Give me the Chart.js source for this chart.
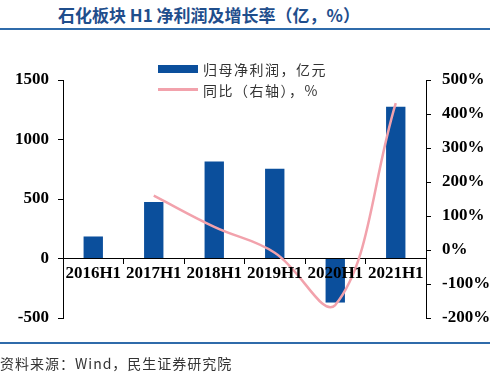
<!DOCTYPE html>
<html>
<head>
<meta charset="utf-8">
<script src="https://cdn.jsdelivr.net/npm/chart.js@4/dist/chart.umd.min.js"></script>
<style>
  html, body { margin: 0; padding: 0; background: #fff; }
  body { width: 500px; height: 381px; position: relative; overflow: hidden; }
  #title { position: absolute; left: 58px; top: 4px; font-family: "Noto Sans CJK SC", sans-serif; font-weight: bold; font-size: 17px; color: #1F4E8C; white-space: nowrap; line-height: 22px; }
  .rule { position: absolute; left: 0; width: 490px; height: 2px; background: #2F6BAA; }
  #source { position: absolute; left: 0; top: 353px; font-family: "Noto Sans CJK SC", sans-serif; font-size: 14px; color: #333; letter-spacing: 1px; line-height: 20px; white-space: nowrap; }
  #wrap { position: absolute; left: 0; top: 0; width: 500px; height: 381px; }
  #legend { position: absolute; left: 158px; top: 58px; font-family: "Noto Sans CJK SC", sans-serif; font-size: 14px; color: #333; letter-spacing: 1.5px; }
  .li { display: flex; align-items: center; height: 21px; }
  .sw { width: 40px; margin-right: 5px; }
</style>
</head>
<body>
<div id="title">石化板块 H1 净利润及增长率（亿，%）</div>
<div class="rule" style="top:28px"></div>
<div id="wrap"><canvas id="c"></canvas></div>
<div id="legend"></div>
<div class="rule" style="top:342px"></div>
<div id="source">资料来源：Wind，民生证券研究院</div>
<script>
const categories = ['2016H1', '2017H1', '2018H1', '2019H1', '2020H1', '2021H1'];
const profitLabel = '归母净利润，亿元';
const profit = [185, 475, 815, 755, -370, 1275];
const yoyLabel = '同比（右轴），%';
const yoy = [null, 160, 68, -8, -162, 432];
const leftTicks = { min: -500, max: 1500, step: 500 };
const rightTicks = { min: -200, max: 500, step: 100 };

const barColor = '#0B4F9C';
const lineColor = '#F2A2AC';
const tickFont = { family: '"Liberation Serif", serif', weight: 'bold', size: 17 };

const chart = new Chart(document.getElementById('c'), {
  type: 'bar',
  data: {
    labels: categories,
    datasets: [
      { type: 'line', label: yoyLabel, data: yoy, yAxisID: 'y1', borderColor: lineColor, backgroundColor: lineColor,
        borderWidth: 2.5, pointRadius: 0, tension: 0.4, order: 0 },
      { type: 'bar', label: profitLabel, data: profit, yAxisID: 'y', backgroundColor: barColor,
        barPercentage: 0.32, categoryPercentage: 1, order: 1 }
    ]
  },
  options: {
    responsive: true,
    maintainAspectRatio: false,
    animation: false,
    layout: { padding: { top: 80, bottom: 63, left: 0, right: 0 } },
    plugins: { legend: { display: false }, tooltip: { enabled: false } },
    scales: {
      x: {
        position: { y: 0 },
        grid: { display: true, offset: true, drawOnChartArea: false, drawTicks: true, tickLength: 5, color: '#000' },
        border: { display: true, color: '#000', width: 1 },
        ticks: { z: 1, font: tickFont, color: '#000', padding: 0, maxRotation: 0, autoSkip: false }
      },
      y: {
        position: 'left',
        min: leftTicks.min, max: leftTicks.max,
        grid: { drawOnChartArea: false, drawTicks: true, tickLength: 5, color: '#000' },
        border: { display: true, color: '#000', width: 1 },
        ticks: { stepSize: leftTicks.step, font: tickFont, color: '#000', padding: 9, callback: v => String(v) },
        afterFit(s) { s.width = 63; }
      },
      y1: {
        position: 'right',
        min: rightTicks.min, max: rightTicks.max,
        grid: { drawOnChartArea: false, drawTicks: true, tickLength: 5, color: '#000' },
        border: { display: true, color: '#000', width: 1 },
        ticks: { stepSize: rightTicks.step, font: tickFont, color: '#000', padding: 11, callback: v => v + '%' },
        afterFit(s) { s.width = 74; }
      }
    }
  }
});

// HTML legend built from the chart's datasets (bar first, as in the reference)
const legend = document.getElementById('legend');
[1, 0].forEach(i => {
  const ds = chart.data.datasets[i];
  const row = document.createElement('div');
  row.className = 'li';
  const sw = document.createElement('span');
  sw.className = 'sw';
  if (ds.type === 'bar') { sw.style.height = '8px'; sw.style.background = ds.backgroundColor; }
  else { sw.style.height = '3px'; sw.style.background = ds.borderColor; }
  const tx = document.createElement('span');
  tx.textContent = ds.label;
  row.appendChild(sw); row.appendChild(tx);
  legend.appendChild(row);
});
</script>
</body>
</html>
